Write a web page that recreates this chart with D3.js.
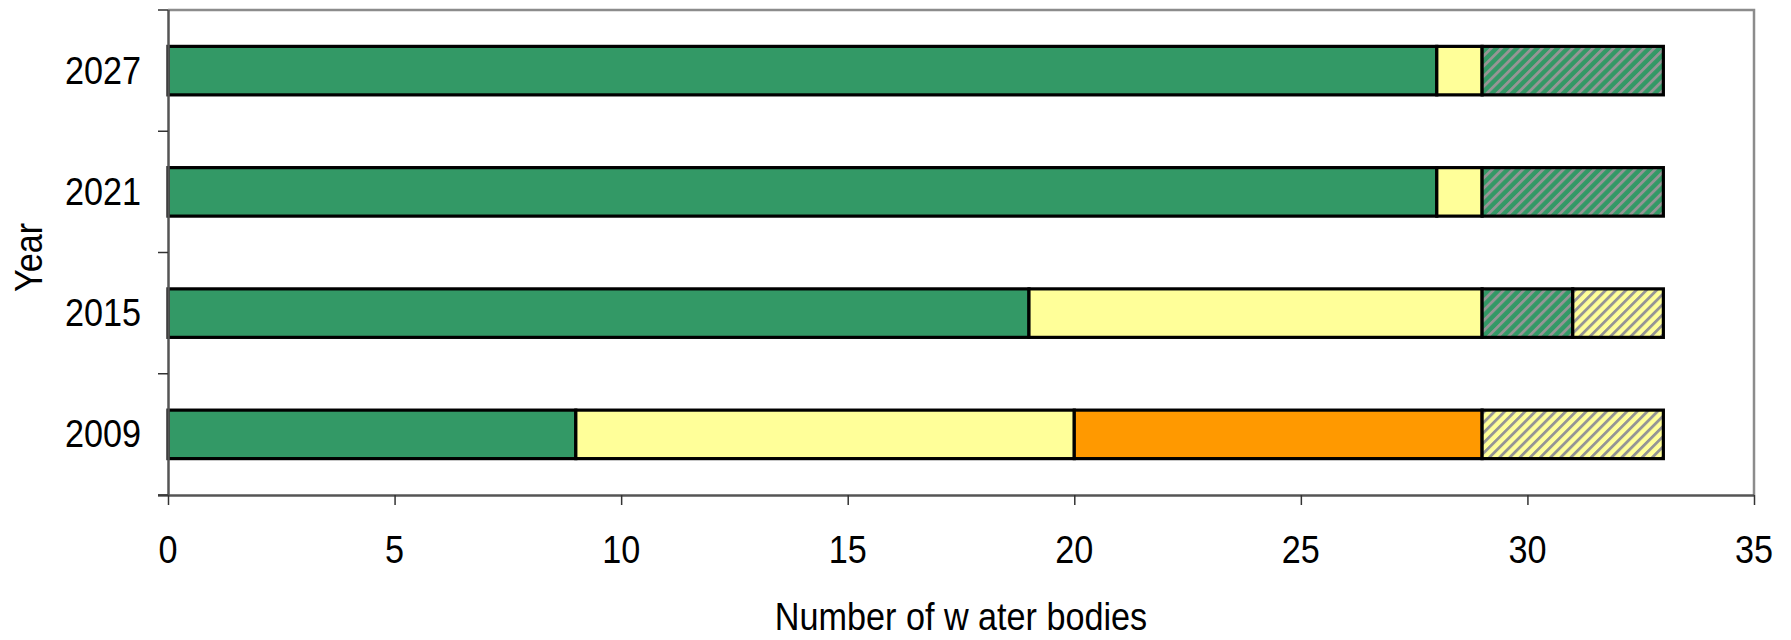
<!DOCTYPE html>
<html>
<head>
<meta charset="utf-8">
<script src="https://cdn.jsdelivr.net/npm/d3@7/dist/d3.min.js"></script>
<style>
  html, body { margin: 0; padding: 0; background: #fff; }
  svg { display: block; }
  text { font-family: "Liberation Sans", Arial, sans-serif; fill: #000; }
</style>
</head>
<body>
<svg id="chart" width="1791" height="640"></svg>
<script>
// ---- data ----
const years = ["2027", "2021", "2015", "2009"];
const seriesNames = ["good", "moderate", "poor", "goodHatched", "moderateHatched"];
const good            = [28, 28, 19, 9];
const moderate        = [1, 1, 10, 11];
const poor            = [0, 0, 0, 9];
const goodHatched     = [4, 4, 2, 0];
const moderateHatched = [0, 0, 2, 4];
const xTicks = [0, 5, 10, 15, 20, 25, 30, 35];
const xTitle = "Number of w ater bodies";
const yTitle = "Year";

// ---- layout ----
const svg = d3.select("#chart");
const L = 168, R = 1754, T = 10, B = 495;
const FS = 38, SX = 0.9;

const x = d3.scaleLinear().domain([0, 35]).range([L, R]);
const y = d3.scaleBand().domain(years).range([T, B]).paddingInner(0.6).paddingOuter(0.3);

// patterns
const defs = svg.append("defs");
function hatch(id, bg) {
  const p = defs.append("pattern").attr("id", id)
    .attr("patternUnits", "userSpaceOnUse")
    .attr("width", 7.2).attr("height", 7.2)
    .attr("patternTransform", "rotate(45)");
  p.append("rect").attr("width", 7.2).attr("height", 7.2).attr("fill", bg);
  p.append("rect").attr("x", 0).attr("width", 2.8).attr("height", 7.2).attr("fill", "#959595");
}
hatch("hGreen", "#339966");
hatch("hYellow", "#FFFF99");

const fills = {
  good: "#339966",
  moderate: "#FFFF99",
  poor: "#FF9900",
  goodHatched: "url(#hGreen)",
  moderateHatched: "url(#hYellow)"
};

const rows = years.map((yr, i) => ({
  year: yr, good: good[i], moderate: moderate[i], poor: poor[i],
  goodHatched: goodHatched[i], moderateHatched: moderateHatched[i]
}));
const stack = d3.stack().keys(seriesNames)(rows);

// plot frame (top/right grey)
svg.append("path")
  .attr("d", `M${L},${T}H${R}V${B}`)
  .attr("fill", "none").attr("stroke", "#8c8c8c").attr("stroke-width", 2.5);

// bars
stack.forEach(s => {
  svg.append("g").selectAll("rect")
    .data(s.filter(d => d[1] - d[0] > 0))
    .join("rect")
    .attr("x", d => x(d[0]))
    .attr("y", d => y(d.data.year))
    .attr("width", d => x(d[1]) - x(d[0]))
    .attr("height", y.bandwidth())
    .attr("fill", fills[s.key])
    .attr("stroke", "#000")
    .attr("stroke-width", 3.2);
});

// x axis
const xAxis = svg.append("g").attr("transform", `translate(0,${B})`)
  .call(d3.axisBottom(x).tickValues(xTicks).tickSize(10).tickFormat(""));
xAxis.select(".domain").attr("stroke", "#555").attr("stroke-width", 2.5)
  .attr("d", `M${L - 10},0.5H${R}`);
xAxis.selectAll(".tick line").attr("stroke", "#333").attr("stroke-width", 1.5);
svg.append("g").selectAll("text").data(xTicks).join("text")
  .attr("transform", d => `translate(${x(d)},563) scale(${SX},1)`)
  .attr("text-anchor", "middle").attr("font-size", FS)
  .text(d => d);

// y axis
const yAxis = svg.append("g").attr("transform", `translate(${L},0)`)
  .call(d3.axisLeft(y).tickSize(0).tickFormat(""));
yAxis.select(".domain").attr("stroke", "#555").attr("stroke-width", 2.5)
  .attr("d", `M0.5,${T}V${B}`);
const bounds = [T].concat(years.map(yr => y(yr) - y.step() * y.paddingInner() / 2 + y.step()));
svg.append("g").selectAll("line").data(bounds).join("line")
  .attr("x1", L - 10).attr("x2", L).attr("y1", d => d).attr("y2", d => d)
  .attr("stroke", "#333").attr("stroke-width", 1.5);
svg.append("g").selectAll("text").data(years).join("text")
  .attr("transform", d => `translate(141,${y(d) + y.bandwidth() / 2 + 13}) scale(${SX},1)`)
  .attr("text-anchor", "end").attr("font-size", FS)
  .text(d => d);

// titles
svg.append("text")
  .attr("transform", `translate(${(L + R) / 2},630) scale(${SX},1)`)
  .attr("text-anchor", "middle").attr("font-size", FS)
  .text(xTitle);
svg.append("text")
  .attr("transform", `translate(42,${(T + B) / 2 + 5}) rotate(-90) scale(${SX},1)`)
  .attr("text-anchor", "middle").attr("font-size", FS)
  .text(yTitle);
</script>
</body>
</html>
